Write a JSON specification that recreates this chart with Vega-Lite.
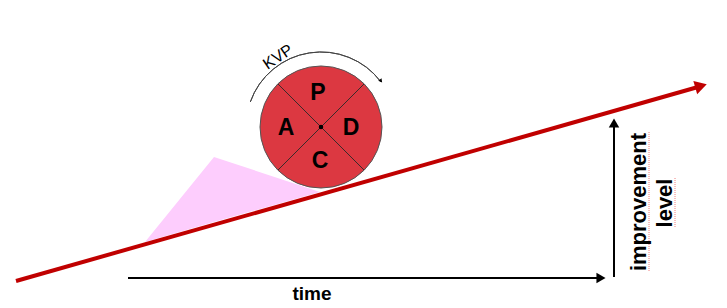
{
  "$schema": "https://vega.github.io/schema/vega-lite/v6.json",
  "width": 727,
  "height": 308,
  "autosize": {"type": "fit", "contains": "padding"},
  "padding": 0,
  "background": "white",
  "config": {"view": {"stroke": null}, "font": "Liberation Sans"},
  "datasets": {
    "tri": [
      {"x": 145, "y": 242, "y2": 242},
      {"x": 214, "y": 157, "y2": 222},
      {"x": 320, "y": 192, "y2": 192}
    ],
    "redline": [
      {"x": 16, "y": 281},
      {"x": 698, "y": 87}
    ],
    "blacklines": [
      {"seg": "time", "x": 128, "y": 278},
      {"seg": "time", "x": 597, "y": 278},
      {"seg": "level", "x": 614, "y": 277},
      {"seg": "level", "x": 614, "y": 126}
    ],
    "diag": [
      {"seg": "a", "x": 278, "y": 84},
      {"seg": "a", "x": 364, "y": 170},
      {"seg": "b", "x": 364, "y": 84},
      {"seg": "b", "x": 278, "y": 170}
    ],
    "spell": [
      {"seg": "imp", "x": 649, "y": 132},
      {"seg": "imp", "x": 649, "y": 272},
      {"seg": "lev", "x": 675, "y": 178},
      {"seg": "lev", "x": 675, "y": 228}
    ],
    "circle": [{"x": 321, "y": 127}],
    "heads": [
      {"name": "red", "x": 701, "y": 86, "angle": -16},
      {"name": "time", "x": 601, "y": 278, "angle": 0},
      {"name": "level", "x": 614, "y": 123, "angle": -90}
    ],
    "letters": [
      {"t": "P", "x": 318, "y": 93},
      {"t": "A", "x": 286, "y": 128},
      {"t": "D", "x": 351, "y": 128},
      {"t": "C", "x": 320, "y": 161}
    ],
    "labels": [
      {"t": "time", "x": 312, "y": 294, "angle": 0, "size": 19},
      {"t": "improvement", "x": 639, "y": 202, "angle": -90, "size": 22},
      {"t": "level", "x": 665, "y": 203, "angle": -90, "size": 22}
    ],
    "kvp": [{"t": "KVP", "x": 278, "y": 57}],
    "archead": [{"x": 381, "y": 81}]
  },
  "encoding": {
    "x": {"field": "x", "type": "quantitative", "scale": {"domain": [0, 727], "nice": false, "zero": false}, "axis": null},
    "y": {"field": "y", "type": "quantitative", "scale": {"domain": [308, 0], "nice": false, "zero": false}, "axis": null}
  },
  "layer": [
    {
      "data": {"name": "tri"},
      "mark": {"type": "area", "color": "#fdcdfd", "opacity": 1},
      "encoding": {"y2": {"field": "y2"}}
    },
    {
      "data": {"name": "redline"},
      "mark": {"type": "line", "color": "#c00000", "strokeWidth": 4},
      "encoding": {}
    },
    {
      "data": {"name": "heads"},
      "transform": [{"filter": "datum.name === 'red'"}],
      "mark": {"type": "point", "shape": "triangle-right", "filled": true, "color": "#c00000", "opacity": 1, "size": 190},
      "encoding": {"angle": {"field": "angle", "type": "quantitative", "scale": null}}
    },
    {
      "data": {"name": "blacklines"},
      "mark": {"type": "line", "color": "black", "strokeWidth": 2},
      "encoding": {"detail": {"field": "seg"}}
    },
    {
      "data": {"name": "heads"},
      "transform": [{"filter": "datum.name !== 'red'"}],
      "mark": {"type": "point", "shape": "triangle-right", "filled": true, "color": "black", "opacity": 1, "size": 110},
      "encoding": {"angle": {"field": "angle", "type": "quantitative", "scale": null}}
    },
    {
      "data": {"name": "circle"},
      "mark": {"type": "point", "shape": "circle", "filled": true, "fill": "#dc3841", "stroke": "#555555", "strokeWidth": 1, "opacity": 1, "size": 14884}
    },
    {
      "data": {"name": "diag"},
      "mark": {"type": "line", "color": "#3a2a2a", "strokeWidth": 1},
      "encoding": {"detail": {"field": "seg"}}
    },
    {
      "data": {"name": "circle"},
      "mark": {"type": "point", "shape": "circle", "filled": true, "color": "black", "opacity": 1, "size": 20}
    },
    {
      "data": {"name": "circle"},
      "mark": {"type": "arc", "filled": false, "stroke": "#444444", "strokeWidth": 1, "radius": 75, "radius2": 75, "theta": -1.23, "theta2": 0.92}
    },
    {
      "data": {"name": "archead"},
      "mark": {"type": "point", "shape": "triangle-right", "filled": true, "color": "black", "opacity": 1, "size": 18, "angle": 52}
    },
    {
      "data": {"name": "letters"},
      "mark": {"type": "text", "fontSize": 23, "fontWeight": "bold", "color": "black", "baseline": "middle", "align": "center", "font": "Liberation Sans"},
      "encoding": {"text": {"field": "t"}}
    },
    {
      "data": {"name": "kvp"},
      "mark": {"type": "text", "fontSize": 16, "color": "black", "baseline": "middle", "align": "center", "angle": -34, "font": "Liberation Sans"},
      "encoding": {"text": {"field": "t"}}
    },
    {
      "data": {"name": "spell"},
      "mark": {"type": "line", "color": "#f08080", "strokeWidth": 1, "strokeDash": [1, 1]},
      "encoding": {"detail": {"field": "seg"}}
    },
    {
      "data": {"name": "labels"},
      "mark": {"type": "text", "fontWeight": "bold", "color": "black", "baseline": "middle", "align": "center", "font": "Liberation Sans"},
      "encoding": {
        "text": {"field": "t"},
        "angle": {"field": "angle", "type": "quantitative", "scale": null},
        "size": {"field": "size", "type": "quantitative", "scale": null}
      }
    }
  ]
}
